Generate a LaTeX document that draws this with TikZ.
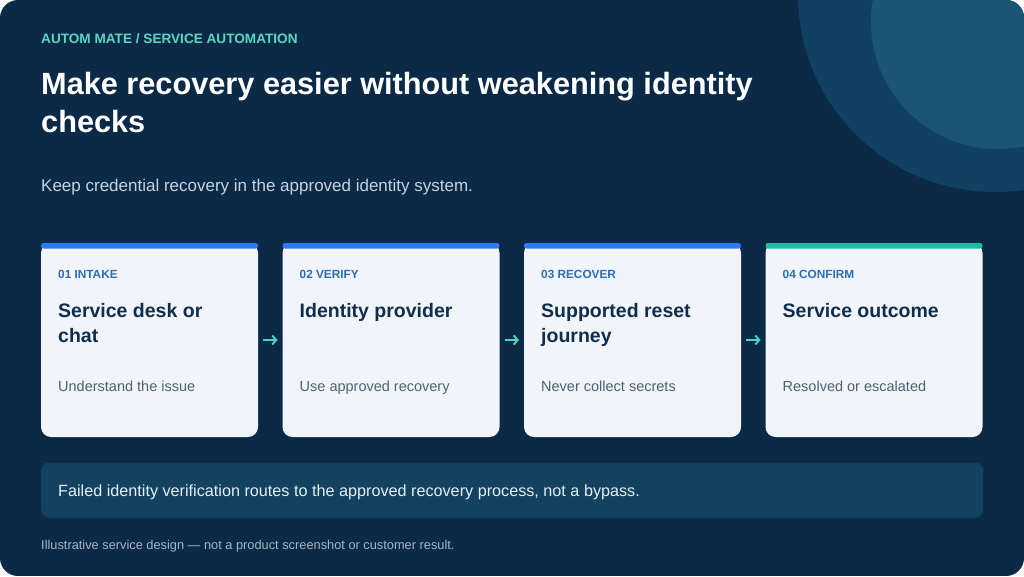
\documentclass[tikz,border=0pt]{standalone}
\usepackage{fontspec}
\setmainfont{Liberation Sans}
\usepackage{tikz}
\usetikzlibrary{positioning, arrows.meta, calc}
\usepackage{xcolor}

\definecolor{navy}{HTML}{0B2A47}
\definecolor{ringout}{HTML}{114161}
\definecolor{ringin}{HTML}{1A5573}
\definecolor{cardbg}{HTML}{F1F5F9}
\definecolor{barblue}{HTML}{2F7CF2}
\definecolor{barteal}{HTML}{14C3A6}
\definecolor{stepblue}{HTML}{2A6DB8}
\definecolor{cardink}{HTML}{0F2E4E}
\definecolor{cardgrey}{HTML}{4C6177}
\definecolor{notebg}{HTML}{12425F}
\definecolor{noteink}{HTML}{E6EEF5}
\definecolor{footink}{HTML}{A3B5C7}
\definecolor{kicker}{HTML}{5CD5C1}
\definecolor{subink}{HTML}{C5D3DF}
\definecolor{arrteal}{HTML}{4ED3BE}

\begin{document}
\begin{tikzpicture}[
  x=1pt, y=-1pt,
  card/.style={fill=cardbg, rounded corners=10pt, minimum width=217pt, minimum height=194pt, inner sep=0pt, outer sep=0pt, anchor=north west},
  stepno/.style={anchor=base west, inner sep=0pt, text=stepblue, font=\fontsize{11.8}{14}\selectfont\bfseries},
  cardhead/.style={anchor=north west, inner sep=0pt, align=left, text=cardink, font=\fontsize{19.5}{24.5}\selectfont\bfseries},
  cardsub/.style={anchor=base west, inner sep=0pt, text=cardgrey, font=\fontsize{14.5}{17}\selectfont},
  arr/.style={-{Straight Barb[length=4pt, width=9pt]}, line width=1.9pt, draw=arrteal},
]
  % page and backdrop
  \fill[white] (0,0) rectangle (1024,576);
  \begin{scope}
    \clip[rounded corners=18pt] (0,0) rectangle (1024,576);
    \fill[navy] (0,0) rectangle (1024,576);
    \fill[ringout] (995,-5) circle[radius=197];
    \fill[ringin] (998,22) circle[radius=127];
  \end{scope}
  % heading
  \node[anchor=base west, inner sep=0pt, text=kicker, font=\fontsize{13.6}{16}\selectfont\bfseries] (kick) at (41,43.5) {AUTOM MATE / SERVICE AUTOMATION};
  \node[anchor=base west, inner sep=0pt, align=left, text=white, font=\fontsize{30.7}{38}\selectfont\bfseries] (title) at (41,132.5) {Make recovery easier without weakening identity\\checks};
  \node[anchor=base west, inner sep=0pt, text=subink, font=\fontsize{17}{20}\selectfont] (sub) at (41,191) {Keep credential recovery in the approved identity system.};
  % cards
  \node[card] (c1) at (41,243) {};
  \node[card, right=24.5pt of c1] (c2) {};
  \node[card, right=24.5pt of c2] (c3) {};
  \node[card, right=24.5pt of c3] (c4) {};
  \foreach \c/\col in {c1/barblue, c2/barblue, c3/barblue, c4/barteal}
    \fill[\col, rounded corners=2.5pt] (\c.north west) rectangle ([yshift=-5.5pt]\c.north east);
  % card texts
  \foreach \c/\num/\head/\txt in {
      c1/01 INTAKE/Service desk or\\chat/Understand the issue,
      c2/02 VERIFY/Identity provider/Use approved recovery,
      c3/03 RECOVER/Supported reset\\journey/Never collect secrets,
      c4/04 CONFIRM/Service outcome/Resolved or escalated} {
    \node[stepno] (\c num) at ([shift={(17,35.5)}]\c.north west) {\num};
    \node[cardhead] (\c head) at ([shift={(17,60.5)}]\c.north west) {\head};
    \node[cardsub] (\c txt) at ([shift={(17,148)}]\c.north west) {\txt};
  }
  % step arrows
  \foreach \a/\b in {c1/c2, c2/c3, c3/c4}
    \draw[arr] ([xshift=5pt]\a.east) -- ([xshift=-5pt]\b.west);
  % note bar
  \node[fill=notebg, rounded corners=8pt, minimum width=942pt, minimum height=55pt, inner sep=0pt, anchor=north west] (note) at (41,462.5) {};
  \node[anchor=base west, inner sep=0pt, text=noteink, font=\fontsize{16.2}{19}\selectfont] (notetxt) at ([shift={(17,34)}]note.north west) {Failed identity verification routes to the approved recovery process, not a bypass.};
  % footer
  \node[anchor=base west, inner sep=0pt, text=footink, font=\fontsize{12.8}{15}\selectfont] (foot) at (41,549) {Illustrative service design — not a product screenshot or customer result.};
\end{tikzpicture}
\end{document}
